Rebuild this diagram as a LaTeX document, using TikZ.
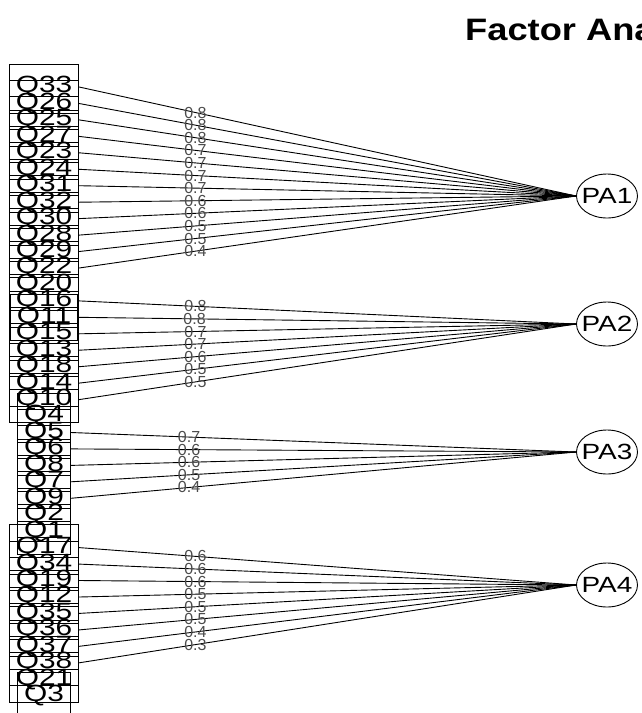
\documentclass[tikz,border=0pt]{standalone}
\usepackage{fontspec}
\setmainfont{Liberation Sans}
\usetikzlibrary{shapes.geometric}

% R draws its text a little wide
\newcommand\wide[1]{\scalebox{1.27}[1]{#1}}

\tikzset{
  item/.style={draw, rectangle, line width=0.9pt, minimum height=46pt,
               inner xsep=6.5pt, inner ysep=0pt, font=\fontsize{23.5}{24}\selectfont},
  factor/.style={draw, ellipse, line width=0.9pt, minimum width=61pt,
                 minimum height=44pt, inner sep=0pt, font=\fontsize{22}{23}\selectfont},
  load/.style={font=\fontsize{16}{17}\selectfont, text=black!70, inner sep=0pt, pos=.234}
}

\begin{document}
\begin{tikzpicture}[x=1pt,y=-1pt]
\clip (0,0) rectangle (641,713);

\node[anchor=base west, inner sep=0pt, font=\bfseries\fontsize{31}{32}\selectfont] (title) at (465,40)
    {\scalebox{1.17}[1]{Factor Analysis}};

% items, top to bottom
\node[item] (q33) at (44,87.0) {\wide{Q33}};
\node[item] (q26) at (44,103.5) {\wide{Q26}};
\node[item] (q25) at (44,119.9) {\wide{Q25}};
\node[item] (q27) at (44,136.4) {\wide{Q27}};
\node[item] (q23) at (44,152.8) {\wide{Q23}};
\node[item] (q24) at (44,169.3) {\wide{Q24}};
\node[item] (q31) at (44,185.7) {\wide{Q31}};
\node[item] (q32) at (44,202.2) {\wide{Q32}};
\node[item] (q30) at (44,218.6) {\wide{Q30}};
\node[item] (q28) at (44,235.1) {\wide{Q28}};
\node[item] (q29) at (44,251.5) {\wide{Q29}};
\node[item] (q22) at (44,268.0) {\wide{Q22}};
\node[item] (q20) at (44,284.4) {\wide{Q20}};
\node[item] (q16) at (44,300.9) {\wide{Q16}};
\node[item] (q11) at (44,317.3) {\wide{Q11}};
\node[item] (q15) at (44,333.8) {\wide{Q15}};
\node[item] (q13) at (44,350.2) {\wide{Q13}};
\node[item] (q18) at (44,366.7) {\wide{Q18}};
\node[item] (q14) at (44,383.1) {\wide{Q14}};
\node[item] (q10) at (44,399.6) {\wide{Q10}};
\node[item] (q4) at (44,416.0) {\wide{Q4}};
\node[item] (q5) at (44,432.5) {\wide{Q5}};
\node[item] (q6) at (44,448.9) {\wide{Q6}};
\node[item] (q8) at (44,465.4) {\wide{Q8}};
\node[item] (q7) at (44,481.8) {\wide{Q7}};
\node[item] (q9) at (44,498.3) {\wide{Q9}};
\node[item] (q2) at (44,514.7) {\wide{Q2}};
\node[item] (q1) at (44,531.2) {\wide{Q1}};
\node[item] (q17) at (44,547.6) {\wide{Q17}};
\node[item] (q34) at (44,564.1) {\wide{Q34}};
\node[item] (q19) at (44,580.5) {\wide{Q19}};
\node[item] (q12) at (44,597.0) {\wide{Q12}};
\node[item] (q35) at (44,613.4) {\wide{Q35}};
\node[item] (q36) at (44,629.9) {\wide{Q36}};
\node[item] (q37) at (44,646.3) {\wide{Q37}};
\node[item] (q38) at (44,662.8) {\wide{Q38}};
\node[item] (q21) at (44,679.2) {\wide{Q21}};
\node[item] (q3) at (44,695.7) {\wide{Q3}};

% factors
\node[factor] (pa1) at (607,196) {\makebox[0pt]{\wide{PA1}}};
\node[factor] (pa2) at (607,324) {\makebox[0pt]{\wide{PA2}}};
\node[factor] (pa3) at (607,452) {\makebox[0pt]{\wide{PA3}}};
\node[factor] (pa4) at (607,585) {\makebox[0pt]{\wide{PA4}}};

\begin{scope}[every node/.style={load},
              every edge/.style={draw, line width=0.9pt}]
    % PA1
    \path (q33.east) edge node {0.8} (pa1.west);
    \path (q26.east) edge node {0.8} (pa1.west);
    \path (q25.east) edge node {0.8} (pa1.west);
    \path (q27.east) edge node {0.7} (pa1.west);
    \path (q23.east) edge node {0.7} (pa1.west);
    \path (q24.east) edge node {0.7} (pa1.west);
    \path (q31.east) edge node {0.7} (pa1.west);
    \path (q32.east) edge node {0.6} (pa1.west);
    \path (q30.east) edge node {0.6} (pa1.west);
    \path (q28.east) edge node {0.5} (pa1.west);
    \path (q29.east) edge node {0.5} (pa1.west);
    \path (q22.east) edge node {0.4} (pa1.west);
    % PA2
    \path (q16.east) edge node {0.8} (pa2.west);
    \path (q11.east) edge node {0.8} (pa2.west);
    \path (q15.east) edge node {0.7} (pa2.west);
    \path (q13.east) edge node {0.7} (pa2.west);
    \path (q18.east) edge node {0.6} (pa2.west);
    \path (q14.east) edge node {0.5} (pa2.west);
    \path (q10.east) edge node {0.5} (pa2.west);
    % PA3
    \path (q5.east) edge node {0.7} (pa3.west);
    \path (q6.east) edge node {0.6} (pa3.west);
    \path (q8.east) edge node {0.6} (pa3.west);
    \path (q7.east) edge node {0.5} (pa3.west);
    \path (q9.east) edge node {0.4} (pa3.west);
    % PA4
    \path (q17.east) edge node {0.6} (pa4.west);
    \path (q34.east) edge node {0.6} (pa4.west);
    \path (q19.east) edge node {0.6} (pa4.west);
    \path (q12.east) edge node {0.5} (pa4.west);
    \path (q35.east) edge node {0.5} (pa4.west);
    \path (q36.east) edge node {0.5} (pa4.west);
    \path (q37.east) edge node {0.4} (pa4.west);
    \path (q38.east) edge node {0.3} (pa4.west);
\end{scope}
\end{tikzpicture}
\end{document}
